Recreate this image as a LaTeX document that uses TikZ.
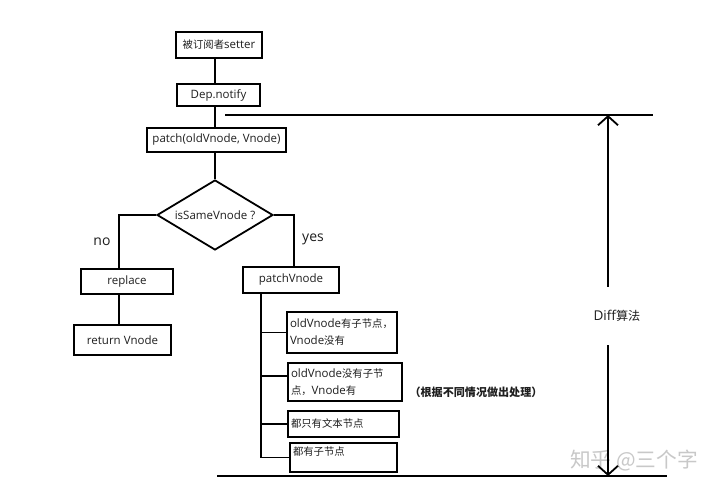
\documentclass[tikz,border=0pt]{standalone}
\usepackage{fontspec}
\setmainfont{Open Sans}
\newfontfamily\cjk[Scale=0.9]{Noto Sans CJK SC}
\usetikzlibrary{shapes.geometric,arrows.meta}
\definecolor{wm}{HTML}{C8C8C8}
\definecolor{ink}{HTML}{1E1E1E}
\begin{document}
\begin{tikzpicture}[x=1pt,y=-1pt,
  every node/.style={font=\fontsize{11.5}{17}\selectfont, text=ink},
  box/.style={draw=black, line width=1.8pt, inner sep=0pt, align=center},
  lbox/.style={draw=black, line width=1.8pt, inner sep=3pt, align=left},
  ln/.style={line width=1.8pt, draw=black},
  arr/.style={line width=1.8pt, draw=black, -{Straight Barb[length=9pt,width=20pt]}}
]
\fill[white] (0,0) rectangle (720,490);
\useasboundingbox (0,0) rectangle (720,490);

% watermark
\node[text=wm, font=\fontsize{23}{26}\selectfont] (wmk) at (634,461) {\cjk 知乎 @三个字};

% main chain
\node[box, minimum width=86pt, minimum height=26pt] (setter) at (219,45) {{\cjk 被订阅者}setter};
\node[box, minimum width=83pt, minimum height=22pt] (dep) at (218.5,95) {Dep.notify};
\node[box, minimum width=139pt, minimum height=24pt] (patch) at (216.5,140) {patch(oldVnode, Vnode)};
\node[draw=black, diamond, line width=1.8pt, inner sep=0pt, aspect=1.66,
      minimum width=116pt, minimum height=70pt] (dia) at (215,215) {isSameVnode ?};

\draw[ln] (setter.south -| dia.north) -- (dep.north -| dia.north);
\draw[ln] (dep.south -| dia.north) -- (patch.north -| dia.north);
\draw[ln] (patch.south -| dia.north) -- (dia.north);

% no branch
\node[box, minimum width=92pt, minimum height=25pt] (rep) at (127,281.5) {replace};
\node[box, minimum width=97pt, minimum height=30pt] (ret) at (122.5,340) {return Vnode};
\draw[ln] (dia.west) -| ([xshift=-8pt]rep.north);
\draw[ln] ([xshift=-8pt]rep.south) -- ([xshift=-8pt]rep.south |- ret.north);
\node[font=\fontsize{14}{16}\selectfont] (no) at (102,242) {no};

% yes branch
\node[box, minimum width=96pt, minimum height=26pt] (pv) at (291,280) {patchVnode};
\draw[ln] (dia.east) -| ([xshift=3pt]pv.north);
\node[font=\fontsize{14}{16}\selectfont] (yes) at (313,239) {yes};

% cases
\node[lbox, text width=104pt, minimum height=41pt] (b1) at (342,332.5) {oldVnode{\cjk 有子节点，}\\Vnode{\cjk 没有}};
\node[lbox, text width=108pt, minimum height=38pt] (b2) at (345,382) {oldVnode{\cjk 没有子节}\\{\cjk 点，}Vnode{\cjk 有}};
\node[lbox, text width=105pt, minimum height=26pt] (b3) at (343.5,424) {\cjk 都只有文本节点};
\node[lbox, text width=101pt, minimum height=29pt] (b4) at (343.5,457.5) {{\cjk 都有子节点}\\[-4pt]\mbox{}};

\coordinate (tb) at (261,458);
\coordinate (b2w) at ([yshift=6pt]b2.west);
\draw[ln] ([xshift=-30pt]pv.south) |- (b4.west);
\draw[ln] (b1.west -| tb) -- (b1.west);
\draw[ln] (b2w -| tb) -- (b2w);
\draw[ln] (b3.west -| tb) -- (b3.west);

\node[font=\fontsize{12.3}{15}\selectfont] (note) at (476,392) {\cjk\bfseries （根据不同情况做出处理）};

% diff span
\coordinate (tl) at (225,115);
\coordinate (tr) at (653,115);
\coordinate (bl) at (217,476);
\coordinate (br) at (667,476);
\coordinate (ax) at (608,0);
\draw[ln] (tl) -- (tr);
\draw[ln] (bl) -- (br);
\node[minimum height=58pt, inner sep=0pt, font=\fontsize{13.5}{16}\selectfont] (diff) at (617,316) {Diff{\cjk 算法}};
\draw[arr] (diff.north -| ax) -- (tr -| ax);
\draw[arr] (diff.south -| ax) -- (br -| ax);
\end{tikzpicture}
\end{document}
